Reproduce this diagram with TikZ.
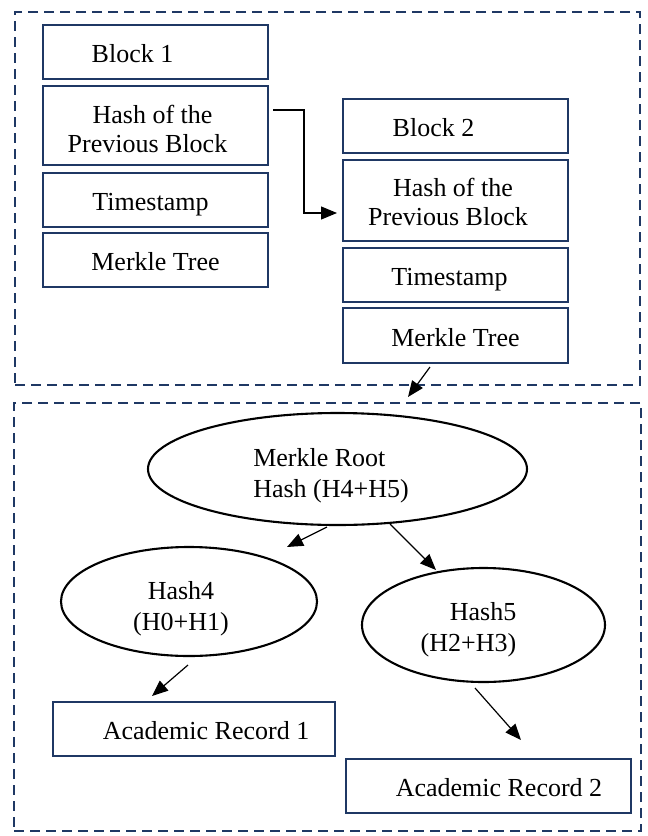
\documentclass[tikz,border=0pt]{standalone}
\usepackage{fontspec}
\setmainfont{Liberation Serif}
\usetikzlibrary{arrows.meta,shapes.geometric,calc}
\definecolor{navy}{RGB}{31,56,100}
\begin{document}
\begin{tikzpicture}[x=1pt,y=-1pt,
  every node/.style={font=\fontsize{26}{29}\selectfont, inner sep=0pt, outer sep=0pt},
  rbox/.style={draw=navy, line width=2.3pt, rectangle, minimum width=225pt, minimum height=54pt},
  sl/.style={text height=21pt, text depth=0pt},
  ebox/.style={draw=black, line width=2.1pt, ellipse, font=\fontsize{26}{31}\selectfont},
  frame/.style={draw=navy, line width=2.3pt, dash pattern=on 10pt off 6pt, rectangle},
  arr/.style={draw=black, line width=1.2pt, -{Triangle[length=16pt,width=13pt]}}]
\useasboundingbox (0,0) rectangle (648,836);

% frames
\node[frame, minimum width=625pt, minimum height=373pt] (top) at (327.5,198.5) {};
\node[frame, minimum width=627pt, minimum height=428pt] (bot) at (327.5,617) {};

% block 1
\node[rbox, sl] (b1) at (155.5,52) {\kern-46pt Block 1};
\node[rbox, minimum height=79pt] (hp1) at (155.5,125.5) {\raisebox{-13pt}[0pt][0pt]{\begin{tabular}{@{}c@{}}\kern-6pt Hash of the\\\kern-16pt Previous Block\end{tabular}}};
\node[rbox, sl] (ts1) at (155.5,200) {\kern-10pt Timestamp};
\node[rbox, sl] (mt1) at (155.5,260) {Merkle Tree};

% block 2
\node[rbox, sl] (b2) at (455.5,126) {\kern-44pt Block 2};
\node[rbox, minimum height=81pt] (hp2) at (455.5,200.5) {\raisebox{-11.3pt}[0pt][0pt]{\begin{tabular}{@{}c@{}}\kern-5pt Hash of the\\\kern-15pt Previous Block\end{tabular}}};
\node[rbox, sl] (ts2) at (455.5,275) {\kern-12pt Timestamp};
\node[rbox, sl, minimum height=55pt] (mt2) at (455.5,335.5) {Merkle Tree};

% merkle tree
\node[ebox, minimum width=379pt, minimum height=112pt] (root) at (337.5,469) {\kern-13pt\raisebox{-12.9pt}[0pt][0pt]{\begin{tabular}{@{}l@{}}Merkle Root\\Hash (H4+H5)\end{tabular}}};
\node[ebox, minimum width=256pt, minimum height=109pt] (h4) at (189,601.5) {\kern-16pt\raisebox{-13.4pt}[0pt][0pt]{\begin{tabular}{@{}c@{}}Hash4\\(H0+H1)\end{tabular}}};
\node[ebox, minimum width=243pt, minimum height=114pt] (h5) at (483.5,625) {\kern-30pt\raisebox{-11.4pt}[0pt][0pt]{\begin{tabular}{@{}r@{}}Hash5\\(H2+H3)\end{tabular}}};

\node[rbox, sl, minimum width=282pt] (ar1) at (194,729) {\kern24pt Academic Record 1};
\node[rbox, sl, minimum width=285pt] (ar2) at (488.5,786) {\kern21pt Academic Record 2};

% connectors
\draw[arr] ($(hp1.east)+(5,-15.5)$) -- ++(31,0) |- ($(hp2.west)+(-6,12.5)$);
\draw[arr] ($(mt2.south)+(-25.5,4)$) -- ($(bot.north)+(80.5,-6)$);
\draw[arr] ($(root.south)+(-10.5,2)$) -- ($(h4.north)+(98,0)$);
\draw[arr] ($(root.south)+(52.5,-1)$) -- ($(h5.north)+(-47.5,2)$);
\draw[arr] ($(h4.south)+(-1,9)$) -- ($(ar1.north)+(-42,-6)$);
\draw[arr] ($(h5.south)+(-8.5,6)$) -- ($(ar2.north)+(32.5,-19)$);
\end{tikzpicture}
\end{document}
